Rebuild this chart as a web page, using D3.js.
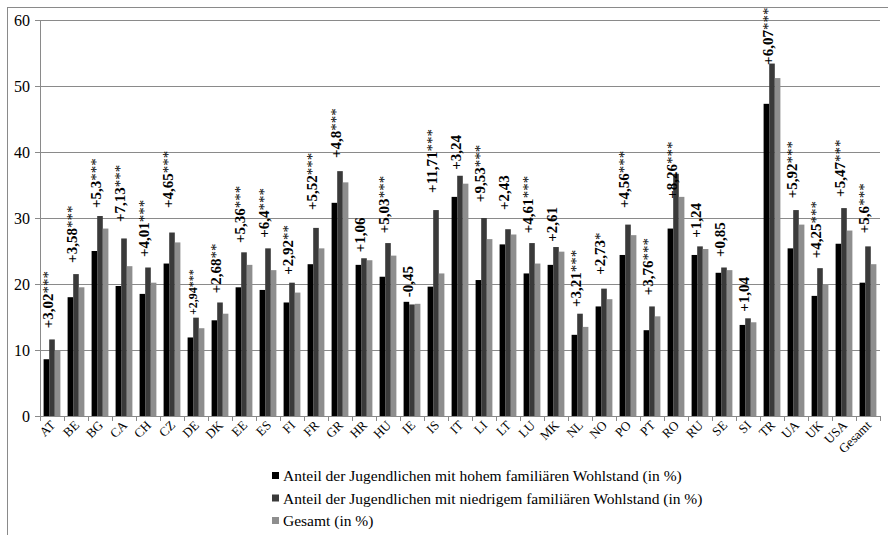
<!DOCTYPE html>
<html>
<head>
<meta charset="utf-8">
<script src="https://cdn.jsdelivr.net/npm/d3@7"></script>
<style>
  body { margin: 0; background: #fff; }
  svg, svg text { font-family: "Liberation Serif", "Times New Roman", serif; }
</style>
</head>
<body>
<svg id="chart" width="888" height="535"></svg>
<script>
// categories (countries)
const countries = ["AT","BE","BG","CA","CH","CZ","DE","DK","EE","ES","FI","FR","GR","HR","HU","IE","IS","IT","LI","LT","LU","MK","NL","NO","PO","PT","RO","RU","SE","SI","TR","UA","UK","USA","Gesamt"];

// share of youths with high family affluence (%)
const highWealth = [8.6,18.0,25.0,19.7,18.5,23.1,11.9,14.5,19.5,19.1,17.2,23.0,32.3,22.9,21.1,17.3,19.6,33.2,20.6,26.0,21.6,22.9,12.3,16.6,24.4,13.0,28.4,24.4,21.7,13.8,47.3,25.4,18.2,26.1,20.2];
// share of youths with low family affluence (%)
const lowWealth = [11.6,21.5,30.3,26.9,22.5,27.8,14.9,17.2,24.8,25.4,20.2,28.5,37.1,23.9,26.2,16.9,31.2,36.4,30.0,28.3,26.2,25.6,15.5,19.3,29.0,16.6,36.7,25.7,22.5,14.8,53.4,31.2,22.4,31.5,25.7];
// total (%)
const total = [10.0,19.5,28.4,22.7,20.2,26.3,13.3,15.5,22.9,22.1,18.7,25.4,35.4,23.6,24.3,17.0,21.6,35.2,26.8,27.5,23.1,24.9,13.5,17.7,27.4,15.1,33.2,25.3,22.1,14.2,51.2,29.0,20.0,28.1,23.0];

// difference annotations: value + significance stars
const diffValues = ["+3,02","+3,58","+5,3","+7,13","+4,01","+4,65","+2,94","+2,68","+5,36","+6,4","+2,92","+5,52","+4,8","+1,06","+5,03","-0,45","+11,71","+3,24","+9,53","+2,43","+4,61","+2,61","+3,21","+2,73","+4,56","+3,76","+8,26","+1,24","+0,85","+1,04","+6,07","+5,92","+4,25","+5,47","+5,6"];
const diffStars = ["***","***","***","***","***","***","***","**","***","***","**","***","***","","***","","***","","***","","***","","***","*","***","***","***","","","","***","***","***","***","***"];
// level (in %) where each annotation starts
const labelLevel = [13.3,23.2,31.5,29.4,24.1,31.5,15.3,18.6,26.2,27.0,21.4,31.2,39.1,24.8,27.7,18.0,33.8,37.3,32.4,31.2,27.7,26.4,16.5,21.4,31.5,18.3,32.9,27.0,24.1,15.8,53.2,33.0,23.9,33.2,27.7];
const smallLabels = ["DE"];

const yTicks = [0,10,20,30,40,50,60];
const seriesNames = [
  "Anteil der Jugendlichen mit hohem familiären Wohlstand (in %)",
  "Anteil der Jugendlichen mit niedrigem familiären Wohlstand (in %)",
  "Gesamt (in %)"
];
const seriesColors = ["#000000", "#3a3a3a", "#8e8e8e"];
const serif = '"Liberation Serif", "Times New Roman", serif';

const svg = d3.select("#chart");
const margin = {top: 20, left: 40, right: 8, bottom: 119};
const width = 888 - margin.left - margin.right;
const height = 535 - margin.top - margin.bottom;

// outer chart border
svg.append("rect")
  .attr("x", 7.5).attr("y", 7.5)
  .attr("width", 900).attr("height", 540)
  .attr("fill", "none").attr("stroke", "#8a8a8a").attr("stroke-width", 1);

const g = svg.append("g").attr("transform", `translate(${margin.left},${margin.top})`);

const x0 = d3.scaleBand().domain(countries).range([0, width]).paddingInner(0.3).paddingOuter(0.15);
const x1 = d3.scaleBand().domain([0, 1, 2]).range([0, x0.bandwidth()]);
const y = d3.scaleLinear().domain([0, 60]).range([height, 0]);

// gridlines
g.append("g")
  .selectAll("line")
  .data(yTicks.filter(d => d > 0))
  .join("line")
  .attr("x1", 0).attr("x2", width)
  .attr("y1", d => Math.round(y(d)) + 0.5).attr("y2", d => Math.round(y(d)) + 0.5)
  .attr("stroke", "#8a8a8a").attr("stroke-width", 1);

// y axis
const yAxis = g.append("g")
  .call(d3.axisLeft(y).tickValues(yTicks).tickSize(5).tickPadding(5).tickFormat(d3.format("d")))
  .attr("font-family", null);
yAxis.selectAll("line").attr("stroke", "#8a8a8a");
yAxis.select(".domain").attr("stroke", "#8a8a8a").attr("d", `M0.5,0V${height}`);
yAxis.selectAll("text").attr("font-size", 16).style("font-family", serif).attr("fill", "#000");

// bars
const rows = countries.map((c, i) => ({c, vals: [highWealth[i], lowWealth[i], total[i]]}));
const groups = g.append("g").selectAll("g")
  .data(rows)
  .join("g")
  .attr("transform", d => `translate(${x0(d.c)},0)`);
groups.selectAll("rect")
  .data(d => d.vals.map((v, k) => ({v, k})))
  .join("rect")
  .attr("x", d => x1(d.k))
  .attr("width", x1.bandwidth())
  .attr("y", d => y(d.v))
  .attr("height", d => height - y(d.v))
  .attr("fill", d => seriesColors[d.k]);

// x axis with ticks at category boundaries
const xAxisG = g.append("g").attr("transform", `translate(0,${height})`);
xAxisG.append("line").attr("x1", 0).attr("x2", width).attr("y1", 0.5).attr("y2", 0.5).attr("stroke", "#8a8a8a");
xAxisG.selectAll("line.tick")
  .data(d3.range(countries.length + 1))
  .join("line")
  .attr("class", "tick")
  .attr("x1", i => Math.round(i * x0.step()) + 0.5).attr("x2", i => Math.round(i * x0.step()) + 0.5)
  .attr("y1", 0).attr("y2", 5)
  .attr("stroke", "#8a8a8a");
xAxisG.selectAll("text")
  .data(countries)
  .join("text")
  .attr("transform", d => `translate(${x0(d) + x0.bandwidth() / 2 + 4},${10}) rotate(-45)`)
  .attr("text-anchor", "end")
  .attr("font-size", 13)
  .style("font-family", serif)
  .attr("fill", "#000")
  .text(d => d);

// difference annotations
const ann = g.append("g").selectAll("text")
  .data(countries)
  .join("text")
  .attr("transform", (d, i) => `translate(${x0(d) + 9},${y(labelLevel[i])}) rotate(-90)`)
  .attr("font-size", d => smallLabels.includes(d) ? 12 : 15)
  .style("font-family", serif)
  .attr("fill", "#000");
ann.append("tspan").attr("font-weight", "bold").text((d, i) => diffValues[i]);
ann.append("tspan").attr("font-weight", "normal").text((d, i) => diffStars[i]);

// legend
const legend = svg.append("g").attr("transform", "translate(272,476)");
seriesNames.forEach((name, k) => {
  const row = legend.append("g").attr("transform", `translate(0,${k * 22.5})`);
  row.append("rect").attr("x", 0).attr("y", -4).attr("width", 7).attr("height", 7).attr("fill", seriesColors[k]);
  row.append("text").attr("x", 11).attr("y", 5).attr("font-size", 15.5)
    .style("font-family", serif).attr("fill", "#000").text(name);
});
</script>
</body>
</html>
